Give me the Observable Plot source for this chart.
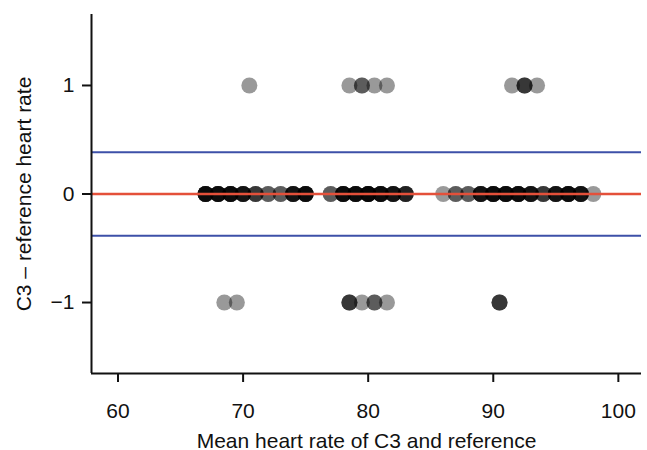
<!DOCTYPE html>
<html><head><meta charset="utf-8">
<script src="https://cdn.jsdelivr.net/npm/d3@7"></script>
<script src="https://cdn.jsdelivr.net/npm/@observablehq/plot@0.6"></script>
<style>body{margin:0;background:#fff}</style>
</head><body><div id="chart"></div>
<script>
// Tick values
const xTicks = [60, 70, 80, 90, 100];
const yTicks = [-1, 0, 1];

// Mean heart rate of each recording, grouped by difference (C3 − reference)
const meanDiffZero = [
  67, 67, 67, 67, 67, 67,
  68, 68, 68, 68, 68, 68,
  69, 69, 69, 69, 69, 69,
  70, 70, 70, 70, 70,
  71, 71, 71,
  72, 72,
  73, 73,
  74, 74, 74, 74, 74,
  75, 75, 75, 75, 75, 75,
  77, 77,
  78, 78, 78, 78, 78, 78,
  79, 79, 79, 79, 79, 79,
  80, 80, 80, 80, 80, 80, 80,
  81, 81, 81, 81, 81, 81,
  82, 82, 82, 82, 82,
  83, 83, 83, 83,
  86,
  87, 87,
  88, 88,
  89, 89, 89, 89, 89,
  90, 90, 90, 90, 90, 90,
  91, 91, 91, 91, 91, 91,
  92, 92, 92, 92, 92, 92,
  93, 93, 93, 93, 93,
  94, 94, 94,
  95, 95, 95, 95, 95,
  96, 96, 96, 96, 96, 96,
  97, 97, 97, 97, 97,
  98
];
const meanDiffPlusOne = [70.5, 78.5, 79.5, 79.5, 80.5, 81.5, 91.5, 92.5, 92.5, 92.5, 93.5];
const meanDiffMinusOne = [68.5, 69.5, 78.5, 78.5, 78.5, 79.5, 80.5, 80.5, 81.5, 90.5, 90.5, 90.5];

// Bias and limits of agreement
const bias = [0];
const limitsOfAgreement = [-0.385, 0.385];

const xDomain = [57.88, 101.85];
const yDomain = [-1.654, 1.654];

const points = [
  ...meanDiffZero.map(m => ({mean: m, diff: 0})),
  ...meanDiffPlusOne.map(m => ({mean: m, diff: 1})),
  ...meanDiffMinusOne.map(m => ({mean: m, diff: -1}))
];

const chart = Plot.plot({
  width: 647,
  height: 450,
  marginLeft: 91,
  marginRight: 6,
  marginTop: 14,
  marginBottom: 77,
  style: {fontFamily: "'Liberation Sans', Arial, sans-serif", fontSize: "19px", background: "#fff", color: "#111"},
  x: {domain: xDomain},
  y: {domain: yDomain},
  marks: [
    Plot.dot(points, {x: "mean", y: "diff", r: 8, fill: "black", fillOpacity: 0.4, stroke: "none"}),
    Plot.ruleY(limitsOfAgreement, {stroke: "#3d50a8", strokeWidth: 2}),
    Plot.ruleY(bias, {stroke: "#e4503a", strokeWidth: 2.5}),
    Plot.axisX({ticks: xTicks, tickFormat: d3.format("d"), tickSize: 9, tickPadding: 21, strokeWidth: 2,
      label: "Mean heart rate of C3 and reference", labelAnchor: "center", labelOffset: 74, labelArrow: "none", fontSize: 21}),
    Plot.axisY({ticks: yTicks, tickFormat: d3.format("d"), tickSize: 9, tickPadding: 8, strokeWidth: 2,
      label: "C3 – reference heart rate", labelAnchor: "center", labelOffset: 75, labelArrow: "none", fontSize: 21}),
    Plot.ruleX([xDomain[0]], {stroke: "#111", strokeWidth: 2}),
    Plot.ruleY([yDomain[0]], {stroke: "#111", strokeWidth: 2})
  ]
});
document.getElementById("chart").appendChild(chart);
</script>
</body></html>
